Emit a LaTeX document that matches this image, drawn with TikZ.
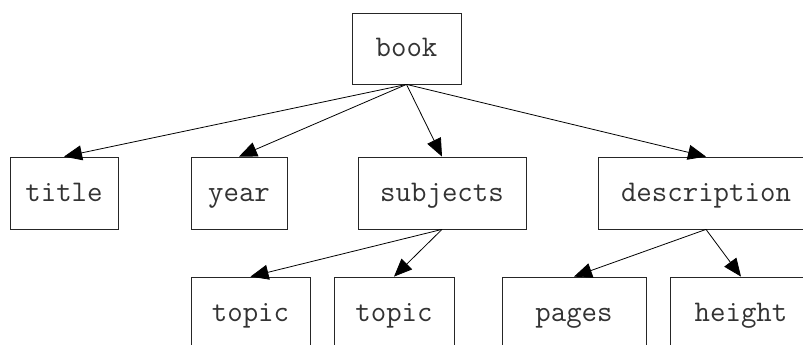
\documentclass[tikz,border=0pt]{standalone}
\usetikzlibrary{arrows.meta}
\begin{document}
\begin{tikzpicture}[x=1pt,y=-1pt,
  box/.style={draw=black!85, line width=0.8pt, inner sep=0pt, minimum height=72pt,
    font=\ttfamily\fontsize{30}{30}\selectfont, text=black!80,
    text height=20pt, text depth=3pt},
  edge/.style={draw=black, line width=0.8pt,
    -{Triangle[length=18pt,width=15pt,fill=black]}}]
  \clip (0,0) rectangle (803,345);
  % root
  \node[box, minimum width=109pt, minimum height=71pt] (book) at (406.5,48.5) {book};
  % first level
  \node[box, minimum width=108pt] (title) at (64,193) {title};
  \node[box, minimum width=96pt]  (year) at (239,193) {year};
  \node[box, minimum width=168pt] (subjects) at (442,193) {subjects};
  \node[box, minimum width=216pt] (description) at (706,193) {description};
  % second level
  \node[box, minimum width=119pt] (topicA) at (250.5,313) {topic};
  \node[box, minimum width=120pt] (topicB) at (394,313) {topic};
  \node[box, minimum width=144pt] (pages) at (574,313) {pages};
  \node[box, minimum width=142pt] (height) at (741,313) {height};
  % edges
  \draw[edge] (book.south) -- (title.north);
  \draw[edge] (book.south) -- (year.north);
  \draw[edge] (book.south) -- (subjects.north);
  \draw[edge] (book.south) -- (description.north);
  \draw[edge] (subjects.south) -- (topicA.north);
  \draw[edge] (subjects.south) -- (topicB.north);
  \draw[edge] (description.south) -- (pages.north);
  \draw[edge] (description.south) -- (height.north);
\end{tikzpicture}
\end{document}
